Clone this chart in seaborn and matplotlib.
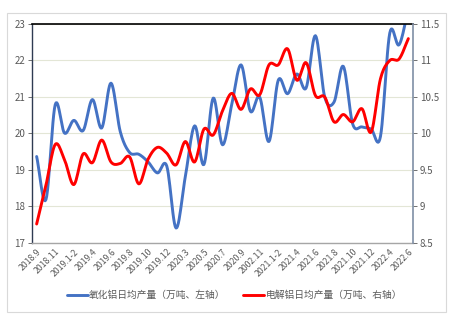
import numpy as np
import pandas as pd
import matplotlib
matplotlib.use("Agg")
import matplotlib.pyplot as plt
import seaborn as sns
from matplotlib.lines import Line2D
from matplotlib.patches import Rectangle

# ---------------- data ----------------
months = ["2018.9", "2018.10", "2018.11", "2018.12", "2019.1-2", "2019.3", "2019.4", "2019.5",
          "2019.6", "2019.7", "2019.8", "2019.9", "2019.10", "2019.11", "2019.12", "2020.1-2",
          "2020.3", "2020.4", "2020.5", "2020.6", "2020.7", "2020.8", "2020.9", "2020.10",
          "2002.11", "2020.12", "2021.1-2", "2021.3", "2021.4", "2021.5", "2021.6", "2021.7",
          "2021.8", "2021.9", "2021.10", "2021.11", "2021.12", "2022.3", "2022.4", "2022.5",
          "2022.6"]
alumina = [19.37, 18.19, 20.79, 20.01, 20.36, 20.08, 20.93, 20.15, 21.38, 20.05,
           19.48, 19.43, 19.22, 18.92, 19.11, 17.41, 18.82, 20.21, 19.15, 20.97,
           19.69, 20.80, 21.88, 20.61, 21.0, 19.78, 21.46, 21.09, 21.63, 21.25,
           22.68, 21.0, 20.86, 21.84, 20.27, 20.18, 20.12, 19.92, 22.75, 22.43, 23.4]
aluminium = [8.76, 9.29, 9.85, 9.64, 9.30, 9.72, 9.60, 9.91, 9.61, 9.59,
             9.68, 9.31, 9.65, 9.81, 9.73, 9.57, 9.89, 9.61, 10.06, 9.98,
             10.31, 10.55, 10.33, 10.61, 10.53, 10.94, 10.94, 11.16, 10.73, 10.97,
             10.52, 10.50, 10.16, 10.26, 10.16, 10.34, 10.02, 10.75, 11.0, 11.02, 11.3]
label_alumina = "氧化铝日均产量（万吨、左轴）"
label_aluminium = "电解铝日均产量（万吨、右轴）"
left_ticks = [17, 18, 19, 20, 21, 22, 23]
right_ticks = [8.5, 9, 9.5, 10, 10.5, 11, 11.5]
right_ticklabels = ["8.5", "9", "9.5", "10", "10.5", "11", "11.5"]


def smooth(yv, n=12):
    """Catmull-Rom rendering of a line through the given points (Excel-style smoothing)."""
    y = np.asarray(yv, float)
    x = np.arange(len(y), dtype=float)
    p = np.concatenate([[2 * y[0] - y[1]], y, [2 * y[-1] - y[-2]]])
    xs, ys = [], []
    for i in range(len(y) - 1):
        p0, p1, p2, p3 = p[i], p[i + 1], p[i + 2], p[i + 3]
        t = np.linspace(0, 1, n, endpoint=False)
        yy = 0.5 * ((2 * p1) + (-p0 + p2) * t + (2 * p0 - 5 * p1 + 4 * p2 - p3) * t ** 2
                    + (-p0 + 3 * p1 - 3 * p2 + p3) * t ** 3)
        xs.append(x[i] + t)
        ys.append(yy)
    xs.append([x[-1]])
    ys.append([y[-1]])
    return np.concatenate(xs), np.concatenate(ys)


sns.set_theme(style="white")
plt.rcParams["font.family"] = ["Noto Sans CJK SC", "DejaVu Sans"]

fig = plt.figure(figsize=(4.55, 3.28), dpi=100)
fig.patches.append(Rectangle((7 / 455, 1 - 312 / 328), 439 / 455, 299 / 328,
                             transform=fig.transFigure, fill=False,
                             edgecolor="#d9d9d9", linewidth=0.8))
ax1 = fig.add_axes([32 / 455, 1 - 243 / 328, 381 / 455, 219 / 328])
ax2 = ax1.twinx()

bx, by = smooth(alumina)
rx, ry = smooth(aluminium)
df_b = pd.DataFrame({"x": bx, "y": by})
df_r = pd.DataFrame({"x": rx, "y": ry})

sns.lineplot(data=df_b, x="x", y="y", ax=ax1, color="#4472C4", linewidth=2.1,
             sort=False, estimator=None)
sns.lineplot(data=df_r, x="x", y="y", ax=ax2, color="#FF0000", linewidth=2.1,
             sort=False, estimator=None)

ax1.set_ylim(17, 23)
ax2.set_ylim(8.5, 11.5)
ax1.set_xlim(-0.5, len(months) - 0.5)
ax1.set_yticks(left_ticks)
ax1.set_yticklabels([str(v) for v in left_ticks])
ax2.set_yticks(right_ticks)
ax2.set_yticklabels(right_ticklabels)

pos = list(range(0, len(months), 2))
ax1.set_xticks(pos)
ax1.set_xticklabels([months[i] for i in pos], rotation=45, ha="right",
                    rotation_mode="anchor", fontsize=6.3, color="#595959")
ax1.tick_params(axis="x", length=0, pad=3)
ax1.tick_params(axis="y", labelsize=7, colors="#595959", length=3, width=0.6,
                direction="out", left=True, pad=2)
ax2.tick_params(axis="y", labelsize=7, colors="#595959", length=3, width=0.6,
                direction="out", right=True, pad=2)
for lab in ax1.get_yticklabels() + ax2.get_yticklabels():
    lab.set_color("#595959")

ax1.grid(axis="y", color="#e3e6d6", linewidth=0.8)
ax1.set_axisbelow(True)
ax1.set_xlabel("")
ax1.set_ylabel("")
ax2.set_ylabel("")

ax1.spines["top"].set_color("#000000")
ax1.spines["top"].set_linewidth(1.2)
ax2.spines["top"].set_visible(False)
ax1.spines["left"].set_color("#2f3b52")
ax1.spines["left"].set_linewidth(1.0)
ax1.spines["bottom"].set_color("#a6a6a6")
ax1.spines["bottom"].set_linewidth(1.0)
ax2.spines["right"].set_color("#7f8fa6")
ax2.spines["right"].set_linewidth(1.2)
ax2.spines["bottom"].set_visible(False)
ax2.spines["left"].set_visible(False)
ax1.spines["right"].set_visible(False)

handles = [Line2D([], [], color="#4472C4", linewidth=2.1),
           Line2D([], [], color="#FF0000", linewidth=2.1)]
fig.legend(handles, [label_alumina, label_aluminium], loc="center",
           bbox_to_anchor=(0.515, 1 - 295 / 328), ncol=2, frameon=False,
           fontsize=7, handlelength=2.2, handletextpad=0.1, columnspacing=1.8,
           labelcolor="#595959")

fig.savefig("out.png", dpi=100)
